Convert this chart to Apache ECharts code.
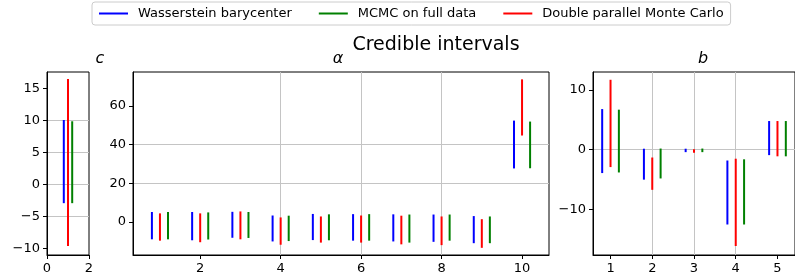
<!DOCTYPE html>
<html>
<head>
<meta charset="utf-8">
<script src="https://cdn.jsdelivr.net/npm/echarts@6/dist/echarts.min.js"></script>
<style>
  html, body { margin: 0; padding: 0; background: #fff; }
  #chart { width: 795px; height: 279px; }
</style>
</head>
<body>
<div id="chart"></div>
<script>
// names of the three methods (legend order)
var methods = ['Wasserstein barycenter', 'MCMC on full data', 'Double parallel Monte Carlo'];

// panel c
var cGroups = [1];
var cWassLo = [-2.9], cWassHi = [10.1];
var cMcmcLo = [-2.9], cMcmcHi = [9.9];
var cDpmcLo = [-9.6], cDpmcHi = [16.5];

// panel alpha
var aGroups = [1, 2, 3, 4, 5, 6, 7, 8, 9, 10];
var aWassLo = [-8.9, -9.4, -8.1, -10.0, -9.3, -9.6, -10.0, -10.2, -10.9, 27.7];
var aWassHi = [5.2, 5.2, 5.3, 3.4, 4.2, 4.1, 4.0, 3.9, 3.1, 52.4];
var aMcmcLo = [-8.9, -9.0, -8.2, -9.8, -9.4, -9.6, -10.6, -9.6, -10.9, 27.8];
var aMcmcHi = [5.2, 5.0, 5.2, 3.3, 4.0, 4.1, 3.9, 3.9, 2.9, 51.9];
var aDpmcLo = [-9.6, -10.4, -8.9, -11.7, -10.6, -10.6, -11.5, -11.9, -13.3, 44.7];
var aDpmcHi = [4.5, 4.5, 5.5, 2.4, 2.9, 3.4, 3.3, 2.9, 1.5, 73.7];

// panel b
var bGroups = [1, 2, 3, 4, 5];
var bWassLo = [-3.9, -5.0, -0.4, -12.5, -0.9];
var bWassHi = [6.8, 0.17, 0.17, -1.8, 4.8];
var bMcmcLo = [-3.8, -4.8, -0.4, -12.5, -1.1];
var bMcmcHi = [6.7, 0.2, 0.2, -1.6, 4.8];
var bDpmcLo = [-2.9, -6.7, -0.5, -16.1, -1.1];
var bDpmcHi = [11.7, -1.3, 0.1, -1.5, 4.8];

// tick labels
var cXTicks = [0, 2], cYTicks = [-10, -5, 0, 5, 10, 15];
var aXTicks = [2, 4, 6, 8, 10], aYTicks = [0, 20, 40, 60];
var bXTicks = [1, 2, 3, 4, 5], bYTicks = [-10, 0, 10];

var colors = { 'Wasserstein barycenter': '#0000ff', 'MCMC on full data': '#008000', 'Double parallel Monte Carlo': '#ff0000' };
var offsets = { 'Wasserstein barycenter': -0.2, 'MCMC on full data': 0.2, 'Double parallel Monte Carlo': 0 };
var font = 'DejaVu Sans';

function fmt(v) {
  return v < 0 ? '\u2212' + (-v) : String(v);
}

function renderBar(params, api) {
  var p1 = api.coord([api.value(0), api.value(1)]);
  var p2 = api.coord([api.value(0), api.value(2)]);
  return {
    type: 'line',
    shape: { x1: p1[0], y1: p1[1], x2: p2[0], y2: p2[1] },
    style: { stroke: api.visual('color'), lineWidth: 2, lineCap: 'butt' }
  };
}

function makeAxis(idx, min, max, ticks) {
  return {
    type: 'value', gridIndex: idx, min: min, max: max,
    axisLine: { show: true, onZero: false, lineStyle: { color: '#000', width: 1 } },
    axisTick: { show: true, length: 4, customValues: ticks, lineStyle: { color: '#000' } },
    axisLabel: { customValues: ticks, color: '#000', fontSize: 13, fontFamily: font, margin: 7, formatter: fmt },
    splitLine: { show: true, showMinLine: false, showMaxLine: false, lineStyle: { color: '#c4c4c4', width: 1 } }
  };
}

function makeSeries(idx, name, groups, lo, hi) {
  var data = groups.map(function (g, i) { return [g + offsets[name], lo[i], hi[i]]; });
  return {
    type: 'custom', name: name, xAxisIndex: idx, yAxisIndex: idx,
    renderItem: renderBar, itemStyle: { color: colors[name] },
    encode: { x: 0, y: [1, 2] }, data: data, clip: true, silent: true
  };
}

var chart = echarts.init(document.getElementById('chart'), null, { renderer: 'canvas' });
var option = {
  backgroundColor: '#ffffff',
  animation: false,
  legend: {
    left: 92, top: 2,
    padding: [5, 7, 5, 7],
    itemGap: 27, itemWidth: 29, itemHeight: 2,
    borderColor: '#cccccc', borderWidth: 1, borderRadius: 3,
    textStyle: { fontSize: 13, fontFamily: font, color: '#000', padding: [0, 0, 0, 5] },
    data: methods.map(function (m) { return { name: m, icon: 'rect' }; })
  },
  graphic: [
    { type: 'text', style: { text: 'Credible intervals', x: 436, y: 45, align: 'center', verticalAlign: 'middle', font: '19px "DejaVu Sans"', fill: '#000' } },
    { type: 'text', style: { text: 'c', x: 100, y: 59, align: 'center', verticalAlign: 'middle', font: 'italic 16px "DejaVu Sans"', fill: '#000' } },
    { type: 'text', style: { text: '\u03b1', x: 338, y: 59, align: 'center', verticalAlign: 'middle', font: 'italic 16px "DejaVu Sans"', fill: '#000' } },
    { type: 'text', style: { text: 'b', x: 703, y: 59, align: 'center', verticalAlign: 'middle', font: 'italic 16px "DejaVu Sans"', fill: '#000' } }
  ],
  grid: [
    { left: 47, width: 42, top: 72, height: 183, show: true, borderColor: '#000', borderWidth: 1 },
    { left: 133, width: 416, top: 72, height: 183, show: true, borderColor: '#000', borderWidth: 1 },
    { left: 593, width: 208, top: 72, height: 183, show: true, borderColor: '#000', borderWidth: 1 }
  ],
  xAxis: [
    makeAxis(0, 0, 2, cXTicks),
    makeAxis(1, 0.33, 10.67, aXTicks),
    makeAxis(2, 0.58, 5.42, bXTicks)
  ],
  yAxis: [
    makeAxis(0, -11, 17.6, cYTicks),
    makeAxis(1, -17, 77.5, aYTicks),
    makeAxis(2, -17.6, 13.0, bYTicks)
  ],
  series: [
    makeSeries(0, methods[0], cGroups, cWassLo, cWassHi),
    makeSeries(0, methods[2], cGroups, cDpmcLo, cDpmcHi),
    makeSeries(0, methods[1], cGroups, cMcmcLo, cMcmcHi),
    makeSeries(1, methods[0], aGroups, aWassLo, aWassHi),
    makeSeries(1, methods[2], aGroups, aDpmcLo, aDpmcHi),
    makeSeries(1, methods[1], aGroups, aMcmcLo, aMcmcHi),
    makeSeries(2, methods[0], bGroups, bWassLo, bWassHi),
    makeSeries(2, methods[2], bGroups, bDpmcLo, bDpmcHi),
    makeSeries(2, methods[1], bGroups, bMcmcLo, bMcmcHi)
  ]
};
chart.setOption(option);
</script>
</body>
</html>
